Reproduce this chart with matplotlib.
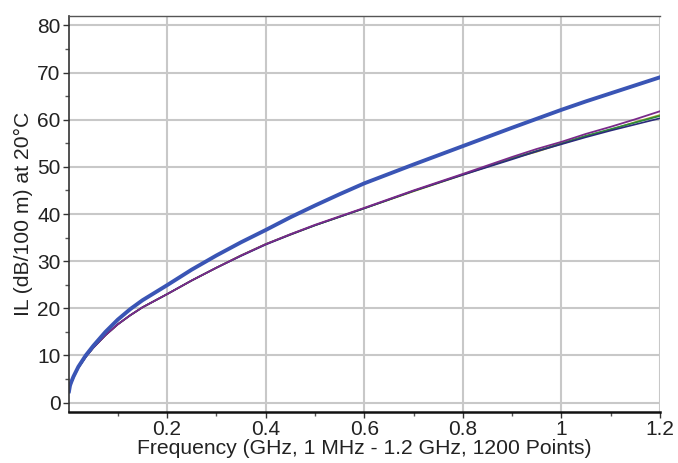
import numpy as np
import matplotlib.pyplot as plt
from matplotlib.ticker import MultipleLocator

plt.rcParams['font.family'] = ['Liberation Sans', 'DejaVu Sans']

freq = [0.001, 0.003, 0.005, 0.01, 0.02, 0.035, 0.05, 0.075, 0.1, 0.125,
        0.15, 0.2, 0.25, 0.3, 0.35, 0.4, 0.45, 0.5, 0.55, 0.6, 0.7, 0.8,
        0.9, 0.95, 1.0, 1.05, 1.1, 1.15, 1.2]

# upper (blue) curve
il_blue = [2.4, 3.6, 4.2, 5.5, 7.6, 10.0, 12.0, 15.0, 17.6, 19.8,
           21.7, 24.9, 28.2, 31.2, 34.0, 36.6, 39.3, 41.8, 44.2, 46.5,
           50.5, 54.4, 58.3, 60.2, 62.1, 63.9, 65.6, 67.3, 69.0]

# lower bundle of measured traces
il_purple = [2.2, 3.4, 4.0, 5.3, 7.4, 9.7, 11.6, 14.3, 16.6, 18.5,
             20.2, 23.0, 25.9, 28.6, 31.2, 33.6, 35.7, 37.7, 39.5, 41.3,
             45.0, 48.5, 52.1, 53.8, 55.3, 57.0, 58.5, 60.1, 61.8]
il_navy = [2.2, 3.4, 4.0, 5.3, 7.4, 9.7, 11.6, 14.3, 16.6, 18.5,
           20.2, 23.0, 25.9, 28.6, 31.1, 33.5, 35.6, 37.6, 39.4, 41.2,
           44.9, 48.3, 51.6, 53.3, 54.8, 56.3, 57.7, 59.0, 60.3]
il_green = [2.2, 3.4, 4.0, 5.3, 7.4, 9.7, 11.6, 14.3, 16.6, 18.5,
            20.2, 23.0, 25.9, 28.6, 31.2, 33.6, 35.7, 37.6, 39.4, 41.2,
            44.9, 48.4, 51.8, 53.4, 55.0, 56.6, 58.0, 59.4, 60.8]
il_olive = [2.2, 3.4, 4.0, 5.3, 7.4, 9.7, 11.6, 14.3, 16.6, 18.5,
            20.2, 23.0, 25.9, 28.6, 31.2, 33.6, 35.6, 37.6, 39.4, 41.2,
            44.8, 48.3, 51.8, 53.2, 54.9, 56.5, 57.9, 59.5, 61.0]

fig = plt.figure(figsize=(6.78, 4.63), dpi=100)
ax = fig.add_axes([69 / 678, 1 - 412 / 463, (660 - 69) / 678, (412 - 16) / 463])

ax.plot(freq, il_olive, color='#9a9a20', lw=1.2)
ax.plot(freq, il_green, color='#2a8a3a', lw=1.2)
ax.plot(freq, il_navy, color='#2a2a7a', lw=1.2)
ax.plot(freq, il_purple, color='#7a2a8a', lw=1.3)
ax.plot(freq, il_blue, color='#3a55b5', lw=2.8)

ax.set_xlim(0.001, 1.2)
ax.set_ylim(-2, 82)
ax.xaxis.set_minor_locator(MultipleLocator(0.1))
ax.yaxis.set_major_locator(MultipleLocator(10))
ax.yaxis.set_minor_locator(MultipleLocator(5))
ax.set_xticks([0.2, 0.4, 0.6, 0.8, 1.0, 1.2])
ax.set_xticklabels(['0.2', '0.4', '0.6', '0.8', '1', '1.2'])

ax.grid(True, which='major', color='#c8c8c8', lw=1.5)
ax.set_axisbelow(True)
ax.tick_params(which='major', length=4, width=1, labelsize=15, colors='#333333',
               labelcolor='#222222', pad=2)
ax.tick_params(which='minor', length=3, width=1, colors='#555555')

ax.spines['top'].set_color('#555555')
ax.spines['top'].set_linewidth(1)
ax.spines['right'].set_visible(False)
ax.spines['left'].set_color('#333333')
ax.spines['left'].set_linewidth(1.2)
ax.spines['bottom'].set_color('#111111')
ax.spines['bottom'].set_linewidth(1.8)

ax.set_xlabel('Frequency (GHz, 1 MHz - 1.2 GHz, 1200 Points)', fontsize=15.2,
              color='#222222', labelpad=0)
ax.set_ylabel('IL (dB/100 m) at 20°C', fontsize=15.2, color='#222222', labelpad=3)

fig.savefig('out.png', dpi=100)
